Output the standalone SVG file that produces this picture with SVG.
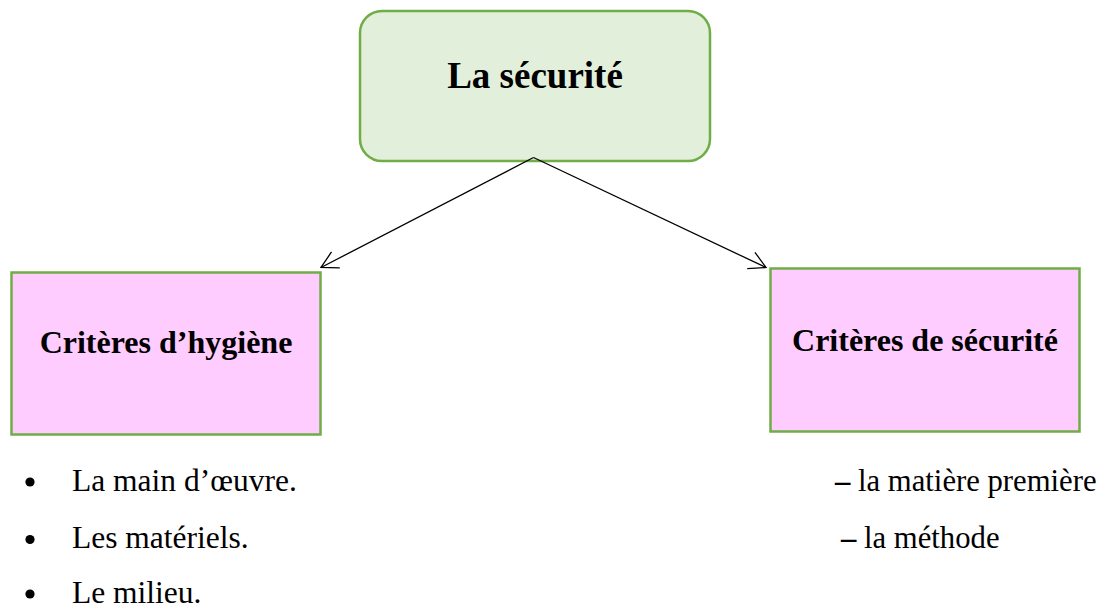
<svg xmlns="http://www.w3.org/2000/svg" width="1111" height="610" viewBox="0 0 1111 610">
<style>
.t{font-family:"Liberation Serif","Times New Roman",serif;fill:#000}
.b{font-weight:bold}
.box{stroke:#70AD47;stroke-width:2.5}
.conn{stroke:#000;stroke-width:1.3;fill:none}
.li{font-size:31.5px}
</style>
<defs>
<marker id="arr" markerUnits="userSpaceOnUse" markerWidth="40" markerHeight="40" refX="0" refY="0" viewBox="-20 -20 40 40" orient="auto" overflow="visible">
<path d="M-16.5,-9 L0,0 L-16.5,9" fill="none" stroke="#000" stroke-width="1.3"/>
</marker>
</defs>
<rect width="1111" height="610" fill="#fff"/>
<g id="node-securite">
<rect class="box" x="360" y="11" width="350" height="150" rx="22" fill="#E2EFDA"/>
<text class="t b" x="535" y="88" font-size="37" text-anchor="middle">La sécurité</text>
</g>
<g id="node-hygiene">
<rect class="box" x="11.5" y="272.5" width="309" height="162" fill="#FFCCFF"/>
<text class="t b" x="166" y="352.5" font-size="32" text-anchor="middle">Critères d’hygiène</text>
</g>
<g id="node-criteres-securite">
<rect class="box" x="770.5" y="268.5" width="309" height="163" fill="#FFCCFF"/>
<text class="t b" x="925" y="350.5" font-size="32" text-anchor="middle">Critères de sécurité</text>
</g>
<g id="connectors">
<line class="conn" x1="533.5" y1="157.5" x2="321" y2="267.5" marker-end="url(#arr)"/>
<line class="conn" x1="533.5" y1="157.5" x2="766" y2="267.5" marker-end="url(#arr)"/>
</g>
<g id="list-left">
<circle cx="30" cy="482" r="4.6" fill="#000"/>
<text class="t li" x="72" y="491">La main d’œuvre.</text>
<circle cx="30" cy="539.5" r="4.6" fill="#000"/>
<text class="t li" x="72" y="548">Les matériels.</text>
<circle cx="30" cy="594" r="4.6" fill="#000"/>
<text class="t li" x="72" y="603">Le milieu.</text>
</g>
<g id="list-right">
<text class="t" x="835" y="491" font-size="30.7"><tspan font-weight="bold">–</tspan> la matière première</text>
<text class="t" x="841" y="548" font-size="30.7"><tspan font-weight="bold">–</tspan> la méthode</text>
</g>
</svg>
